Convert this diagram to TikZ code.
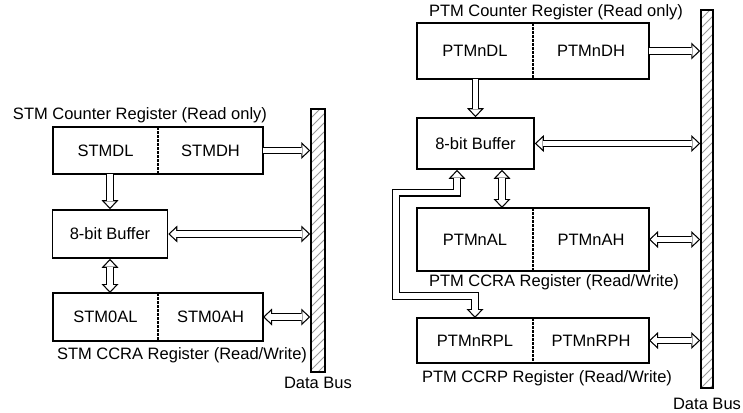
\documentclass[tikz,border=0pt]{standalone}
\usepackage{fontspec}
\setmainfont{Liberation Sans}
\usetikzlibrary{arrows.meta,positioning,calc}

\tikzset{
  Hout/.tip={Triangle[length=9pt,width=17pt,line width=0pt]},
  Hin/.tip={Triangle[length=6.05pt,width=11.4pt,line width=0pt]},
  box/.style={draw, line width=1.6pt, inner sep=0pt},
  half/.style={inner sep=0pt, outer sep=0pt},
  divider/.style={line width=2pt, dash pattern=on 2.7pt off 1.3pt},
  bus/.style={draw, line width=1.5pt, inner sep=0pt, path picture={
    \foreach \k in {0,9,...,400}
      \draw[gray!80, line width=0.8pt] ([yshift=-\k pt]path picture bounding box.north west) -- ++(14,-14);
  }},
  fat/.style={draw=white, line width=5.2pt, shorten >=1.75pt, -Hin,
    preaction={draw=black, line width=7.6pt, shorten >=0pt, -Hout}},
  fatboth/.style={draw=white, line width=5.2pt, shorten >=1.75pt, shorten <=1.75pt, Hin-Hin,
    preaction={draw=black, line width=7.6pt, shorten >=0pt, shorten <=0pt, Hout-Hout}},
}

\begin{document}
\begin{tikzpicture}[x=1pt, y=-1pt, font=\fontsize{16.5}{19}\selectfont]
\useasboundingbox (0,0) rectangle (743,412);

% Left panel: STM
\node (stmcnt) at (140,115) {STM Counter Register (Read only)};
\node[half, minimum width=105pt, minimum height=47pt] (cntL) at (105.5,150.5) {STMDL};
\node[half, minimum width=105pt, minimum height=47pt, right=0pt of cntL] (cntH) {STMDH};
\draw[box] (cntL.north west) rectangle (cntH.south east);
\draw[divider] (cntL.north east) -- (cntL.south east);

\node[box, minimum width=115pt, minimum height=48pt] (buf) at (110,234) {8-bit Buffer};

\node[half, minimum width=105pt, minimum height=48pt] (ccraL) at (105.5,317) {STM0AL};
\node[half, minimum width=105pt, minimum height=48pt, right=0pt of ccraL] (ccraH) {STM0AH};
\draw[box] (ccraL.north west) rectangle (ccraH.south east);
\draw[divider] (ccraL.north east) -- (ccraL.south east);
\node (stmccra) at (182,355) {STM CCRA Register (Read/Write)};

\node[bus, minimum width=14pt, minimum height=263pt] (busL) at (318,240.5) {};
\node (dbL) at (318,383) {Data Bus};

\draw[fat] (cntH.east) -- (cntH.east -| busL.west);
\draw[fat] (buf.north |- cntL.south) -- (buf.north);
\draw[fatboth] (buf.east) -- (buf.east -| busL.west);
\draw[fatboth] (buf.south) -- (buf.south |- ccraL.north);
\draw[fatboth] (ccraH.east) -- (ccraH.east -| busL.west);

% Right panel: PTM
\node (ptmcnt) at (556,12) {PTM Counter Register (Read only)};
\node[half, minimum width=116pt, minimum height=56pt] (pcntL) at (475,51) {PTMnDL};
\node[half, minimum width=116pt, minimum height=56pt, right=0pt of pcntL] (pcntH) {PTMnDH};
\draw[box] (pcntL.north west) rectangle (pcntH.south east);
\draw[divider] (pcntL.north east) -- (pcntL.south east);

\node[box, minimum width=117pt, minimum height=51pt] (pbuf) at (475.5,143.5) {8-bit Buffer};

\node[half, minimum width=116pt, minimum height=63pt] (pccraL) at (475,239.5) {PTMnAL};
\node[half, minimum width=116pt, minimum height=63pt, right=0pt of pccraL] (pccraH) {PTMnAH};
\draw[box] (pccraL.north west) rectangle (pccraH.south east);
\draw[divider] (pccraL.north east) -- (pccraL.south east);
\node (ptmccra) at (554,282) {PTM CCRA Register (Read/Write)};

\node[half, minimum width=116pt, minimum height=45pt] (pccrpL) at (475,340.5) {PTMnRPL};
\node[half, minimum width=116pt, minimum height=45pt, right=0pt of pccrpL] (pccrpH) {PTMnRPH};
\draw[box] (pccrpL.north west) rectangle (pccrpH.south east);
\draw[divider] (pccrpL.north east) -- (pccrpL.south east);
\node (ptmccrp) at (547,378) {PTM CCRP Register (Read/Write)};

\node[bus, minimum width=12pt, minimum height=378pt] (busR) at (707,199) {};
\node (dbR) at (707,404) {Data Bus};

\draw[fat] (pcntH.east) -- (pcntH.east -| busR.west);
\draw[fat] (pbuf.north |- pcntL.south) -- (pbuf.north);
\draw[fatboth] (pbuf.east) -- (pbuf.east -| busR.west);
\draw[fatboth] ([xshift=26.5pt]pbuf.south) -- ([xshift=26.5pt]pbuf.south |- pccraL.north);
\draw[fatboth] (pccraH.east) -- (pccraH.east -| busR.west);
\draw[fatboth] (pccrpH.east) -- (pccrpH.east -| busR.west);
% buffer to CCRP, routed round the left side
\draw[fatboth] (pccrpL.north) |- ++(-79,-22) |- ([xshift=-18.5pt,yshift=-23pt]pbuf.south) -- ([xshift=-18.5pt]pbuf.south);

\end{tikzpicture}
\end{document}
